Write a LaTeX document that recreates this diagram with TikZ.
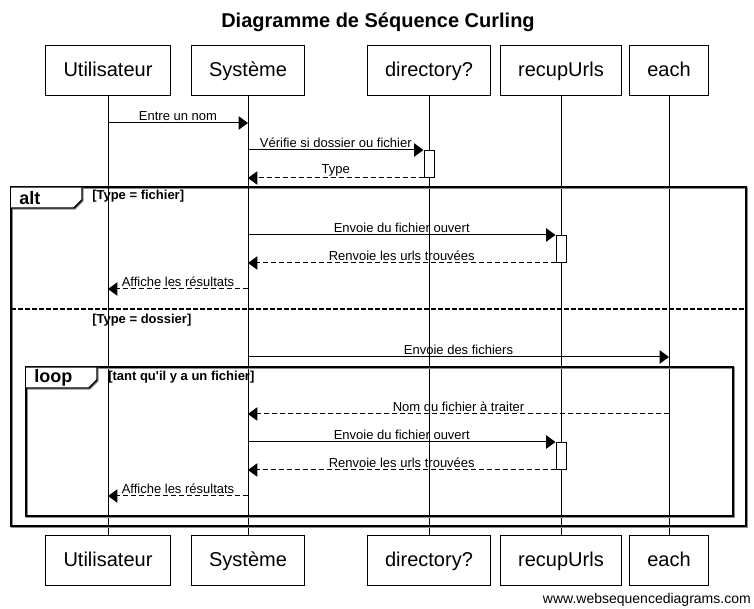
\documentclass[tikz,border=0pt]{standalone}
\usepackage{fontspec}
\setmainfont{Liberation Sans}
\usetikzlibrary{arrows.meta}
\begin{document}
\begin{tikzpicture}[x=0.75pt,y=-0.75pt,
  actor/.style={draw, line width=0.75pt, minimum height=37.5pt, inner xsep=13.5pt, text height=11.5pt, text depth=2.5pt, font=\fontsize{15}{18}\selectfont, fill=white},
  life/.style={line width=0.75pt},
  msg/.style={line width=0.75pt, -{Triangle[length=7pt,width=10pt]}},
  ret/.style={msg, dash pattern=on 3.75pt off 2.25pt},
  lbl/.style={font=\fontsize{9.75}{11}\selectfont, inner sep=1.2pt, above},
  act/.style={draw, line width=0.75pt, fill=white, minimum width=7.5pt, minimum height=20.25pt, inner sep=0pt},
  frame/.style={line width=1.1pt},
  frameshadow/.style={line width=1pt, draw=black!45},
  tabtxt/.style={font=\bfseries\fontsize{13.5}{15}\selectfont, anchor=west, inner sep=0pt},
  guard/.style={font=\bfseries\fontsize{9.75}{11}\selectfont, anchor=west, inner sep=0pt}
]
\useasboundingbox (0,0) rectangle (754,609);

% title
\node[font=\bfseries\fontsize{15}{18}\selectfont] (title) at (378,22) {Diagramme de Séquence Curling};

% actors top
\node[actor] (Ut) at (108,71) {Utilisateur};
\node[actor] (St) at (248,71) {Système};
\node[actor] (Dt) at (429,71) {directory?};
\node[actor] (Rt) at (561,71) {recupUrls};
\node[actor] (Et) at (669,71) {each};
% actors bottom
\node[actor] (Ub) at (108,561) {Utilisateur};
\node[actor] (Sb) at (248,561) {Système};
\node[actor] (Db) at (429,561) {directory?};
\node[actor] (Rb) at (561,561) {recupUrls};
\node[actor] (Eb) at (669,561) {each};

% lifelines
\foreach \a in {U,S,D,R,E} \draw[life] (\a t.south) -- (\a b.north);

% alt frame
\draw[frameshadow] (12,188) rectangle (747,527);
\draw[frame] (11,187) rectangle (746,526);
\draw[frameshadow] (12,188) -- (83,188) -- (83,201) -- (75,209) -- (12,209);
\draw[frame, fill=white] (11,187) -- (82,187) -- (82,200) -- (74,208) -- (11,208);
\node[tabtxt] (altl) at (19,198) {alt};
\node[guard] (g1) at (92,196) {[Type = fichier]};
\draw[frame, dash pattern=on 3.75pt off 1.5pt] (11,309) -- (746,309);
\node[guard] (g2) at (92,320) {[Type = dossier]};

% loop frame
\draw[frameshadow] (27,368) rectangle (734,517);
\draw[frame] (26,367) rectangle (733,516);
\draw[frameshadow] (27,368) -- (98,368) -- (98,381) -- (90,389) -- (27,389);
\draw[frame, fill=white] (26,367) -- (97,367) -- (97,380) -- (89,388) -- (26,388);
\node[tabtxt] (loopl) at (34,378) {loop};
\node[guard] (g3) at (108,377) {[tant qu\textquotesingle il y a un fichier]};

% activations
\node[act, anchor=north] (aD) at (429,150) {};
\node[act, anchor=north] (aR1) at (561,235) {};
\node[act, anchor=north] (aR2) at (561,442) {};

% lifelines redrawn over frame tabs
\foreach \a in {U,S} \draw[life] (\a t.south |- 0,187) -- (\a t.south |- 0,209);

% messages
\draw[msg] (Ut.south |- 0,123) -- node[lbl] {Entre un nom} (St.south |- 0,123);
\draw[msg] (St.south |- aD.north west) -- node[lbl] {Vérifie si dossier ou fichier} (aD.north west);
\draw[ret] (aD.south west) -- node[lbl] {Type} (St.south |- aD.south west);

\draw[msg] (St.south |- aR1.north west) -- node[lbl] {Envoie du fichier ouvert} (aR1.north west);
\draw[ret] (aR1.south west) -- node[lbl] {Renvoie les urls trouvées} (St.south |- aR1.south west);
\draw[ret] (St.south |- 0,289) -- node[lbl] {Affiche les résultats} (Ut.south |- 0,289);

\draw[msg] (St.south |- 0,357) -- node[lbl] {Envoie des fichiers} (Et.south |- 0,357);
\draw[ret] (Et.south |- 0,414) -- node[lbl] {Nom du fichier à traiter} (St.south |- 0,414);
\draw[msg] (St.south |- aR2.north west) -- node[lbl] {Envoie du fichier ouvert} (aR2.north west);
\draw[ret] (aR2.south west) -- node[lbl] {Renvoie les urls trouvées} (St.south |- aR2.south west);
\draw[ret] (St.south |- 0,496) -- node[lbl] {Affiche les résultats} (Ut.south |- 0,496);

% watermark
\node[font=\fontsize{10.5}{12}\selectfont, anchor=east, inner sep=0pt] (wm) at (751,600) {www.websequencediagrams.com};
\end{tikzpicture}
\end{document}
